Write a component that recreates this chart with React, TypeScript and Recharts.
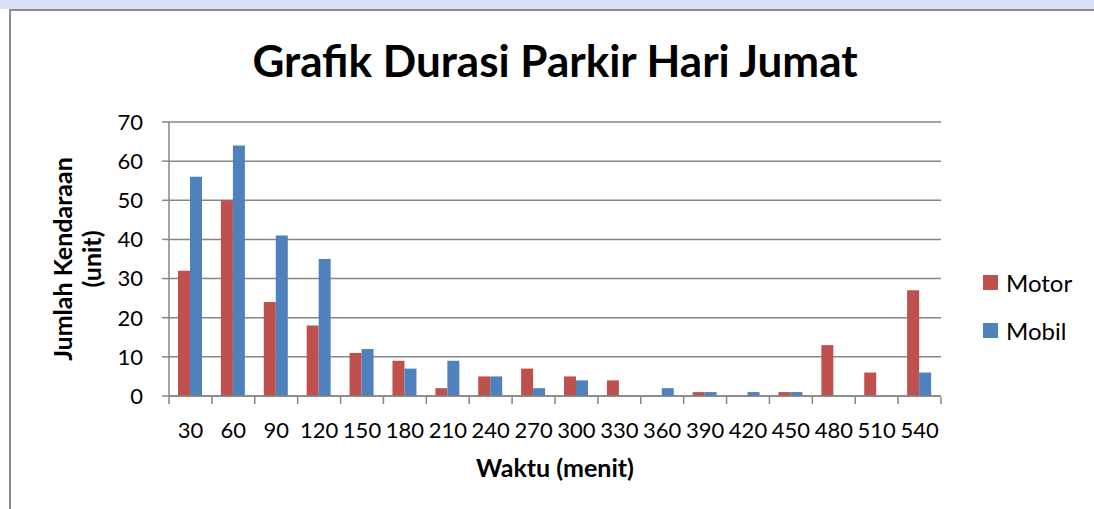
import { BarChart, Bar, XAxis, YAxis, CartesianGrid, Legend } from 'recharts';

const durations = ['30', '60', '90', '120', '150', '180', '210', '240', '270', '300', '330', '360', '390', '420', '450', '480', '510', '540'];
const motor = [32, 50, 24, 18, 11, 9, 2, 5, 7, 5, 4, 0, 1, 0, 1, 13, 6, 27];
const mobil = [56, 64, 41, 35, 12, 7, 9, 5, 2, 4, 0, 2, 1, 1, 1, 0, 0, 6];
const yTicks = [0, 10, 20, 30, 40, 50, 60, 70];
const edgeTicks = [0, 1, 2, 3, 4, 5, 6, 7, 8, 9, 10, 11, 12, 13, 14, 15, 16, 17, 18];

const RED = '#C0504D';
const BLUE = '#4F81BD';
const GRID = '#868686';
const FONT = 'Lato, "Open Sans", sans-serif';

const data = durations.map((d, i) => ({ waktu: d, pos: i + 0.5, Motor: motor[i], Mobil: mobil[i] }));

function LegendBox() {
    const items = [
        { name: 'Motor', color: RED },
        { name: 'Mobil', color: BLUE },
    ];
    return (
        <div style={{ fontFamily: FONT, fontSize: 24, color: '#000' }}>
            {items.map((it) => (
                <div key={it.name} style={{ display: 'flex', alignItems: 'center', height: 48 }}>
                    <span style={{ width: 15, height: 15, background: it.color, marginRight: 8, display: 'inline-block' }} />
                    <span>{it.name}</span>
                </div>
            ))}
        </div>
    );
}

export default function App() {
    return (
        <div style={{ position: 'absolute', left: 0, top: 0, width: 1094, height: 509, background: '#fff', overflow: 'hidden', fontFamily: FONT }}>
            <div style={{ position: 'absolute', left: 0, top: 0, width: 1094, height: 9, background: '#dcdff5' }} />
            <div style={{ position: 'absolute', left: 9, top: 9, width: 1085, height: 2, background: '#8c8c8c' }} />
            <div style={{ position: 'absolute', left: 9, top: 9, width: 2, height: 500, background: '#8c8c8c' }} />

            <div style={{ position: 'absolute', left: 0, top: 34, width: 1110, textAlign: 'center', fontSize: 44, fontWeight: 700, color: '#000' }}>
                Grafik Durasi Parkir Hari Jumat
            </div>
            <div
                style={{
                    position: 'absolute',
                    left: 77,
                    top: 259,
                    transform: 'translate(-50%, -50%) rotate(-90deg)',
                    textAlign: 'center',
                    fontSize: 25,
                    fontWeight: 700,
                    lineHeight: '29px',
                    whiteSpace: 'nowrap',
                    color: '#000',
                }}
            >
                Jumlah Kendaraan
                <br />
                (unit)
            </div>
            <div style={{ position: 'absolute', left: 0, top: 452, width: 1110, textAlign: 'center', fontSize: 25, fontWeight: 700, color: '#000' }}>
                Waktu (menit)
            </div>

            <div style={{ position: 'absolute', left: 0, top: 0 }}>
                <BarChart
                    width={1094}
                    height={509}
                    data={data}
                    margin={{ top: 122, right: 153, bottom: 53, left: 0 }}
                    barCategoryGap="21%"
                    barGap={0}
                >
                    <CartesianGrid horizontal vertical={false} stroke={GRID} strokeWidth={1.5} />
                    <XAxis
                        xAxisId="edge"
                        type="number"
                        dataKey="pos"
                        domain={[0, 18]}
                        ticks={edgeTicks}
                        interval={0}
                        tick={() => <g />}
                        tickSize={7}
                        tickLine={{ stroke: GRID, strokeWidth: 1.5 }}
                        axisLine={false}
                        height={59}
                        allowDataOverflow
                    />
                    <XAxis
                        xAxisId="cat"
                        dataKey="waktu"
                        interval={0}
                        tickLine={false}
                        tickSize={7}
                        tickMargin={19}
                        axisLine={{ stroke: GRID, strokeWidth: 1.5 }}
                        tick={{ fill: '#000', fontSize: 22, fontFamily: FONT }}
                        height={1}
                    />
                    <YAxis
                        domain={[0, 70]}
                        ticks={yTicks}
                        interval={0}
                        width={169}
                        tickSize={7}
                        tickMargin={19}
                        tickLine={{ stroke: GRID, strokeWidth: 1.5 }}
                        axisLine={{ stroke: GRID, strokeWidth: 1.5 }}
                        tick={{ fill: '#000', fontSize: 22, fontFamily: FONT }}
                    />
                    <Legend
                        content={<LegendBox />}
                        layout="vertical"
                        verticalAlign="middle"
                        align="center"
                        wrapperStyle={{ left: 983, top: 258, width: 110 }}
                    />
                    <Bar xAxisId="cat" dataKey="Motor" fill={RED} isAnimationActive={false} />
                    <Bar xAxisId="cat" dataKey="Mobil" fill={BLUE} isAnimationActive={false} />
                </BarChart>
            </div>
        </div>
    );
}
